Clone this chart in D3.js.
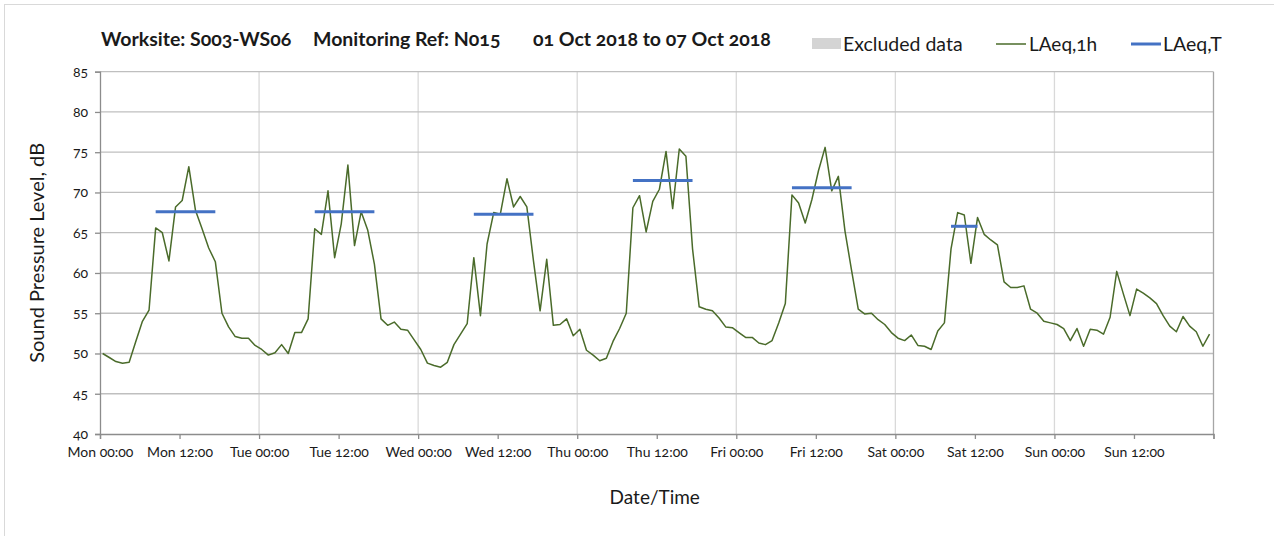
<!DOCTYPE html>
<html>
<head>
<meta charset="utf-8">
<script src="https://cdn.jsdelivr.net/npm/d3@7"></script>
<style>
  html, body { margin: 0; padding: 0; background: #fff; }
  svg text { font-family: Lato, "Open Sans", sans-serif; font-variant-numeric: oldstyle-nums; fill: #1a1a1a; }
</style>
</head>
<body>
<svg id="chart" width="1274" height="536"></svg>
<script>
// Hourly LAeq,1h readings, Mon 01 Oct 2018 00:00 to Sun 07 Oct 2018 23:00
const laeq1h = [
  // Mon
  50.0, 49.5, 49.0, 48.8, 48.9, 51.5, 54.0, 55.4, 65.6, 65.0, 61.5, 68.2,
  69.0, 73.2, 67.8, 65.5, 63.1, 61.4, 55.0, 53.3, 52.1, 51.9, 51.9, 51.0,
  // Tue
  50.5, 49.8, 50.1, 51.1, 50.0, 52.6, 52.6, 54.3, 65.5, 64.8, 70.2, 61.9,
  66.1, 73.4, 63.4, 67.6, 65.3, 61.1, 54.3, 53.5, 53.9, 53.0, 52.9, 51.7,
  // Wed
  50.5, 48.8, 48.5, 48.3, 48.9, 51.1, 52.4, 53.7, 61.9, 54.7, 63.6, 67.5,
  67.3, 71.7, 68.2, 69.5, 68.2, 61.5, 55.3, 61.7, 53.5, 53.6, 54.3, 52.2,
  // Thu
  53.0, 50.4, 49.8, 49.1, 49.4, 51.5, 53.1, 55.0, 68.1, 69.6, 65.1, 68.9,
  70.4, 75.1, 68.0, 75.4, 74.5, 63.0, 55.8, 55.5, 55.3, 54.4, 53.3, 53.2,
  // Fri
  52.6, 52.0, 52.0, 51.3, 51.1, 51.6, 53.8, 56.2, 69.7, 68.7, 66.2, 69.1,
  72.7, 75.6, 70.2, 72.0, 65.2, 60.3, 55.5, 54.9, 55.0, 54.2, 53.6, 52.6,
  // Sat
  51.9, 51.6, 52.3, 51.0, 50.9, 50.5, 52.8, 53.8, 63.0, 67.5, 67.2, 61.2,
  66.9, 64.8, 64.1, 63.5, 58.9, 58.2, 58.2, 58.4, 55.5, 55.0, 54.0, 53.8,
  // Sun
  53.6, 53.1, 51.6, 53.1, 50.9, 53.0, 52.9, 52.4, 54.5, 60.2, 57.4, 54.7,
  58.0, 57.5, 56.9, 56.2, 54.7, 53.4, 52.7, 54.6, 53.4, 52.7, 50.9, 52.4
];

// Working-period LAeq,T: first and last hourly reading of each period and its level
const periodFirstHour = [8, 32, 56, 80, 104, 128];
const periodLastHour  = [17, 41, 65, 89, 113, 132];
const laeqT           = [67.6, 67.6, 67.3, 71.5, 70.6, 65.8];

// Excluded periods (none in this week)
const excludedStart = [];
const excludedEnd   = [];

// Axis labels, one every 12 hours
const xTickLabels = ["Mon 00:00", "Mon 12:00", "Tue 00:00", "Tue 12:00", "Wed 00:00", "Wed 12:00",
                     "Thu 00:00", "Thu 12:00", "Fri 00:00", "Fri 12:00", "Sat 00:00", "Sat 12:00",
                     "Sun 00:00", "Sun 12:00", ""];
const yTicks = [40, 45, 50, 55, 60, 65, 70, 75, 80, 85];

// Each hourly reading is plotted a little after the top of its hour
const readingOffset = 0.4;
const hoursInWeek = 168;

const svg = d3.select("#chart");
const W = 1274, H = 536;
const plot = { left: 100, right: 1213.5, top: 71.7, bottom: 434 };

// Chart area frame
svg.append("rect").attr("x", 4.5).attr("y", 4.5).attr("width", W + 10).attr("height", H + 10)
  .attr("fill", "#fff").attr("stroke", "#d9d9d9").attr("stroke-width", 1);

const x = d3.scaleLinear().domain([0, hoursInWeek]).range([plot.left, plot.right]);
const y = d3.scaleLinear().domain([40, 85]).range([plot.bottom, plot.top]);

const xTickHours = d3.range(0, hoursInWeek + 1, 12);
const dayHours = d3.range(24, hoursInWeek, 24);

// Vertical gridlines at midnight
svg.append("g").selectAll("line").data(dayHours).join("line")
  .attr("x1", d => x(d)).attr("x2", d => x(d))
  .attr("y1", plot.top).attr("y2", plot.bottom)
  .attr("stroke", "#d9d9d9").attr("stroke-width", 1.3);

// Horizontal gridlines
svg.append("g").selectAll("line").data(yTicks.filter(v => v > 40)).join("line")
  .attr("x1", plot.left).attr("x2", plot.right)
  .attr("y1", d => y(d)).attr("y2", d => y(d))
  .attr("stroke", "#bfbfbf").attr("stroke-width", 1.3);

// Right edge of the plot area
svg.append("line")
  .attr("x1", plot.right).attr("x2", plot.right)
  .attr("y1", plot.top).attr("y2", plot.bottom)
  .attr("stroke", "#a6a6a6").attr("stroke-width", 1.3);

// Excluded data bands
svg.append("g").selectAll("rect").data(excludedStart.map((s, i) => [s, excludedEnd[i]])).join("rect")
  .attr("x", d => x(d[0])).attr("width", d => x(d[1]) - x(d[0]))
  .attr("y", plot.top).attr("height", plot.bottom - plot.top)
  .attr("fill", "#d9d9d9");

// Y axis
const yAxis = svg.append("g").attr("transform", `translate(${plot.left},0)`)
  .call(d3.axisLeft(y).tickValues(yTicks).tickSize(5).tickPadding(7).tickFormat(d3.format("d")));
yAxis.select(".domain").attr("stroke", "#8c8c8c").attr("stroke-width", 1.3);
yAxis.selectAll(".tick line").attr("stroke", "#8c8c8c").attr("stroke-width", 1.3);
yAxis.selectAll(".tick text").attr("font-size", 14).attr("fill", "#1a1a1a")
  .style("font-family", "Lato, 'Open Sans', sans-serif");

// X axis
const xAxis = svg.append("g").attr("transform", `translate(0,${plot.bottom})`)
  .call(d3.axisBottom(x).tickValues(xTickHours).tickSize(5).tickPadding(8)
    .tickFormat((d, i) => xTickLabels[i]));
xAxis.select(".domain").attr("stroke", "#8c8c8c").attr("stroke-width", 1.3);
xAxis.selectAll(".tick line").attr("stroke", "#8c8c8c").attr("stroke-width", 1.3);
xAxis.selectAll(".tick text").attr("font-size", 14).attr("fill", "#1a1a1a")
  .style("font-family", "Lato, 'Open Sans', sans-serif");

// LAeq,1h line
const line = d3.line().x((d, i) => x(i + readingOffset)).y(d => y(d));
svg.append("path").datum(laeq1h)
  .attr("d", line).attr("fill", "none")
  .attr("stroke", "#4a6b2a").attr("stroke-width", 1.5).attr("stroke-linejoin", "round");

// LAeq,T segments
svg.append("g").selectAll("line").data(laeqT.map((v, i) => ({ v, a: periodFirstHour[i], b: periodLastHour[i] }))).join("line")
  .attr("x1", d => x(d.a + readingOffset)).attr("x2", d => x(d.b + readingOffset))
  .attr("y1", d => y(d.v)).attr("y2", d => y(d.v))
  .attr("stroke", "#4472c4").attr("stroke-width", 3);

// Title
const title = svg.append("text").attr("y", 46).attr("font-size", 19.5).attr("font-weight", "bold");
title.append("tspan").attr("x", 101).text("Worksite: S003-WS06");
title.append("tspan").attr("x", 313).text("Monitoring Ref: N015");
title.append("tspan").attr("x", 533).text("01 Oct 2018 to 07 Oct 2018");

// Legend
const lg = svg.append("g");
lg.append("rect").attr("x", 812).attr("y", 38).attr("width", 29).attr("height", 11).attr("fill", "#d4d4d4");
lg.append("text").attr("x", 843).attr("y", 51).attr("font-size", 19.5).text("Excluded data");
lg.append("line").attr("x1", 996).attr("x2", 1026).attr("y1", 44).attr("y2", 44)
  .attr("stroke", "#4a6b2a").attr("stroke-width", 1.5);
lg.append("text").attr("x", 1029).attr("y", 51).attr("font-size", 19).text("LAeq,1h");
lg.append("line").attr("x1", 1131).attr("x2", 1161).attr("y1", 44).attr("y2", 44)
  .attr("stroke", "#4472c4").attr("stroke-width", 3);
lg.append("text").attr("x", 1163).attr("y", 51).attr("font-size", 19.5).text("LAeq,T");

// Axis titles
svg.append("text").attr("x", (plot.left + plot.right) / 2 - 2).attr("y", 504)
  .attr("text-anchor", "middle").attr("font-size", 19).text("Date/Time");
svg.append("text").attr("transform", `translate(44,${(plot.top + plot.bottom) / 2}) rotate(-90)`)
  .attr("text-anchor", "middle").attr("font-size", 20).text("Sound Pressure Level, dB");
</script>
</body>
</html>
